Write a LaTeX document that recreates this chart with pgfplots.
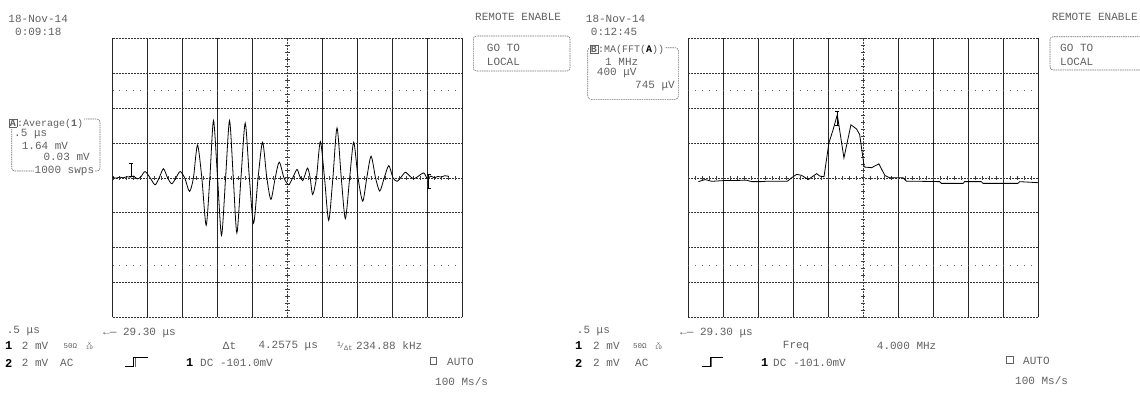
\documentclass[border=0pt]{standalone}
\usepackage{fontspec}
\usepackage{pgfplots}
\pgfplotsset{compat=1.18}
\newfontfamily\scopefont{Liberation Mono}
\definecolor{txt}{gray}{0.38}
\newcommand{\T}[3]{\node[anchor=west,inner sep=0pt,text=txt,font=\scopefont\fontsize{11}{12}\selectfont] at (#1pt,-#2pt) {#3};}
\newcommand{\B}[3]{\node[anchor=west,inner sep=0pt,text=black,font=\scopefont\bfseries\fontsize{12}{12}\selectfont] at (#1pt,-#2pt) {#3};}
\newcommand{\Sm}[3]{\node[anchor=west,inner sep=0pt,text=txt,font=\scopefont\fontsize{7.5}{8}\selectfont] at (#1pt,-#2pt) {#3};}
\newcommand{\boxl}[1]{{\setlength{\fboxsep}{0.6pt}\setlength{\fboxrule}{0.6pt}\fbox{\bfseries #1}}}
\pgfplotsset{scopeaxis/.style={scale only axis, width=349.5pt, height=279pt,
  xmin=0, xmax=10, ymin=-4, ymax=4,
  xtick={0,1,2,3,4,6,7,8,9,10}, ytick={-4,-3,-2,-1,0,1,2,3,4},
  xticklabels={}, yticklabels={}, major tick length=0pt,
  axis line style={draw=none}, grid=major,
  major x grid style={black!85, line width=0.8pt, solid},
  major y grid style={black!80, line width=0.6pt, dash pattern=on 2pt off 1pt},
  anchor=south west},
  scopedeco/.code={}}
\newcommand{\deco}{%
  \draw[black!75, line width=0.6pt, dash pattern=on 2pt off 1pt] (axis cs:5,-4) -- (axis cs:5,4);
  \draw[black!75, line width=4.5pt, dash pattern=on 0.7pt off 6.275pt, dash phase=0.35pt] (axis cs:5,-4) -- (axis cs:5,4);
  \draw[black!75, line width=4.5pt, dash pattern=on 0.7pt off 6.29pt, dash phase=0.35pt] (axis cs:0,0) -- (axis cs:10,0);
  \draw[black!60, line width=0.8pt, dash pattern=on 0.8pt off 6.19pt, dash phase=0.4pt] (axis cs:0,2.5) -- (axis cs:10,2.5);
  \draw[black!60, line width=0.8pt, dash pattern=on 0.8pt off 6.19pt, dash phase=0.4pt] (axis cs:0,-2.5) -- (axis cs:10,-2.5);
}
\begin{document}
\begin{tikzpicture}
\path[use as bounding box, fill=white] (0pt,0pt) rectangle (1140pt,-392pt);

% ---------------- left screen ----------------
\begin{axis}[scopeaxis, at={(112.7pt,-317.3pt)}]
\deco
\addplot[black, line width=0.8pt, smooth, tension=0.45] coordinates {
(0,0.01) (0.1,-0.01) (0.2,0.02) (0.3,0.0) (0.4,0.03) (0.5,0.02) (0.6,0.05) (0.7,-0.03) (0.8,0.02)
(0.926,0.18) (1.07,0) (1.213,-0.20) (1.33,0) (1.452,0.26) (1.57,0) (1.690,-0.17) (1.81,0)
(1.929,0.18) (2.06,0) (2.197,-0.39) (2.31,0) (2.426,0.94) (2.55,0) (2.674,-1.36) (2.78,0)
(2.884,1.64) (3.0,0) (3.114,-1.65) (3.23,0) (3.343,1.64) (3.45,0) (3.553,-1.58) (3.67,0)
(3.792,1.57) (3.91,0) (4.031,-1.30) (4.16,0) (4.288,1.02) (4.41,0) (4.527,-0.62) (4.65,0)
(4.766,0.45) (4.90,0) (5.033,-0.20) (5.15,0) (5.272,0.24) (5.35,0.05) (5.435,-0.08) (5.50,0.08)
(5.578,0.28) (5.65,0) (5.721,-0.48) (5.83,0) (5.941,1.04) (6.06,0) (6.180,-1.22) (6.30,0)
(6.418,1.43) (6.54,0) (6.657,-1.17) (6.78,0) (6.896,1.02) (7.02,0) (7.154,-0.67) (7.27,0)
(7.393,0.62) (7.52,0) (7.641,-0.38) (7.77,0) (7.899,0.35) (8.02,0) (8.138,-0.10) (8.26,0.03)
(8.376,0.16) (8.50,0.05) (8.615,-0.03) (8.75,0.05) (8.90,0.14) (9.0,-0.02) (9.1,0.05)
(9.2,0.0) (9.3,0.04) (9.4,0.02) (9.5,0.06) (9.62,0.04)};
\addplot[black, line width=0.6pt, mark=-, mark size=2pt] coordinates {(0.53,0.43) (0.53,0.05)};
\addplot[black, line width=0.6pt, mark=-, mark size=2pt] coordinates {(9.04,0.09) (9.04,-0.30)};
\end{axis}

\T{8.3}{19}{18-Nov-14}
\T{15}{32}{0:09:18}
\T{475}{16.7}{REMOTE ENABLE}
\draw[black!55, line width=0.6pt, dash pattern=on 1.5pt off 0.8pt, rounded corners=3pt] (473.3pt,-36pt) rectangle (570pt,-71pt);
\T{486.7}{48.3}{GO TO}
\T{486.7}{61.7}{LOCAL}

\draw[black!55, line width=0.6pt, dash pattern=on 1.5pt off 0.8pt, rounded corners=3pt] (11.7pt,-119pt) rectangle (100pt,-171pt);
\node[anchor=west,inner sep=0.5pt,fill=white,text=txt,font=\scopefont\fontsize{10}{11}\selectfont] at (8pt,-123.5pt) {\boxl{A}:Average(\textbf{1})};
\T{14}{134.5}{.5 μs}
\T{21.7}{145.7}{1.64 mV}
\T{43.3}{156.7}{0.03 mV}
\node[anchor=west,inner sep=0.5pt,fill=white,text=txt,font=\scopefont\fontsize{11}{12}\selectfont] at (34pt,-171pt) {1000 swps};

\T{6.7}{331}{.5 μs}
\T{103}{333}{←— 29.30 μs}
\B{5}{346}{1}
\T{21.7}{346}{2 mV}
\Sm{63.3}{346}{50Ω}
\node[anchor=west,inner sep=0pt,text=txt,font=\scopefont\fontsize{5.5}{5}\selectfont,align=center] at (86pt,-346pt) {x\\[-1pt]10};
\T{222.7}{346}{Δt}
\T{258.3}{346}{4.2575 μs}
\node[anchor=west,inner sep=0pt,text=txt,font=\scopefont\fontsize{7}{7}\selectfont] at (336.7pt,-346pt) {\raisebox{2pt}{1}\!/\raisebox{-1.5pt}{Δt}};
\T{356}{346}{234.88 kHz}
\B{5}{363}{2}
\T{21.7}{363}{2 mV}
\T{60}{363}{AC}
\draw[black, line width=0.8pt] (125pt,-366.7pt) -- (133.5pt,-366.7pt) -- (133.5pt,-357pt) -- (148pt,-357pt);
\draw[black!60, line width=0.5pt] (135pt,-366.7pt) -- (135pt,-358pt);
\B{186}{363}{1}
\T{200}{363}{DC -101.0mV}
\draw[txt, line width=0.6pt] (430pt,-357.5pt) rectangle (436.5pt,-364.5pt);
\T{447}{361.7}{AUTO}
\T{435}{381.7}{100 Ms/s}

% ---------------- right screen ----------------
\begin{axis}[scopeaxis, at={(688.4pt,-317.3pt)}]
\deco
\addplot[black, line width=0.8pt] coordinates {
(0.286,-0.11) (0.476,-0.05) (0.667,-0.10) (1.0,-0.08) (1.667,-0.07) (1.81,-0.11) (2.05,-0.11)
(2.22,-0.10) (2.83,-0.10) (2.95,0.0) (3.10,0.10) (3.24,0.07) (3.43,-0.05) (3.57,0.05)
(3.67,0.12) (3.76,0.05) (3.88,0.03) (4.02,1.0) (4.14,1.38) (4.26,1.81) (4.45,0.57)
(4.65,1.52) (4.81,1.40) (4.90,1.24) (4.98,0.67) (5.03,0.31) (5.24,0.29) (5.45,0.40)
(5.62,0.07) (5.76,0.0) (6.14,0.0) (6.24,-0.10) (6.43,-0.10) (6.62,-0.10) (7.19,-0.11)
(7.24,-0.16) (7.86,-0.16) (7.90,-0.11) (8.38,-0.11) (8.43,-0.16) (9.43,-0.16) (9.48,-0.11)
(10.0,-0.14)};
\addplot[black, line width=0.6pt, mark=-, mark size=2pt] coordinates {(4.26,1.92) (4.26,1.52)};
\end{axis}

\T{585.7}{19}{18-Nov-14}
\T{590.7}{31.7}{0:12:45}
\T{1051.7}{16.7}{REMOTE ENABLE}
\draw[black!55, line width=0.6pt, dash pattern=on 1.5pt off 0.8pt, rounded corners=3pt] (1050pt,-36.7pt) rectangle (1160pt,-70pt);
\T{1060}{48.3}{GO TO}
\T{1060}{61.7}{LOCAL}

\draw[black!55, line width=0.6pt, dash pattern=on 1.5pt off 0.8pt, rounded corners=3pt] (587.7pt,-47.7pt) rectangle (678.3pt,-99.3pt);
\node[anchor=west,inner sep=0.5pt,fill=white,text=txt,font=\scopefont\fontsize{10}{11}\selectfont] at (589pt,-50pt) {\boxl{B}:MA(FFT(\textbf{\color{black}A}))};
\T{605}{61.7}{1 MHz}
\T{596.7}{73.3}{400 μV}
\T{635}{85.7}{745 μV}

\T{576.7}{331}{.5 μs}
\T{680}{333}{←— 29.30 μs}
\B{575}{346}{1}
\T{593}{346}{2 mV}
\Sm{633}{346}{50Ω}
\node[anchor=west,inner sep=0pt,text=txt,font=\scopefont\fontsize{5.5}{5}\selectfont,align=center] at (655pt,-346pt) {x\\[-1pt]10};
\T{782.7}{346}{Freq}
\T{876.7}{346}{4.000 MHz}
\B{575}{363}{2}
\T{593}{363}{2 mV}
\T{635}{363}{AC}
\draw[black, line width=0.8pt] (701.7pt,-366.7pt) -- (710pt,-366.7pt) -- (710pt,-357pt) -- (723pt,-357pt);
\draw[black!60, line width=0.5pt] (711.5pt,-366.7pt) -- (711.5pt,-358pt);
\B{761}{363}{1}
\T{773}{363}{DC -101.0mV}
\draw[txt, line width=0.6pt] (1006.7pt,-356.5pt) rectangle (1013.2pt,-363.5pt);
\T{1023}{360.5}{AUTO}
\T{1015}{381}{100 Ms/s}
\end{tikzpicture}
\end{document}
